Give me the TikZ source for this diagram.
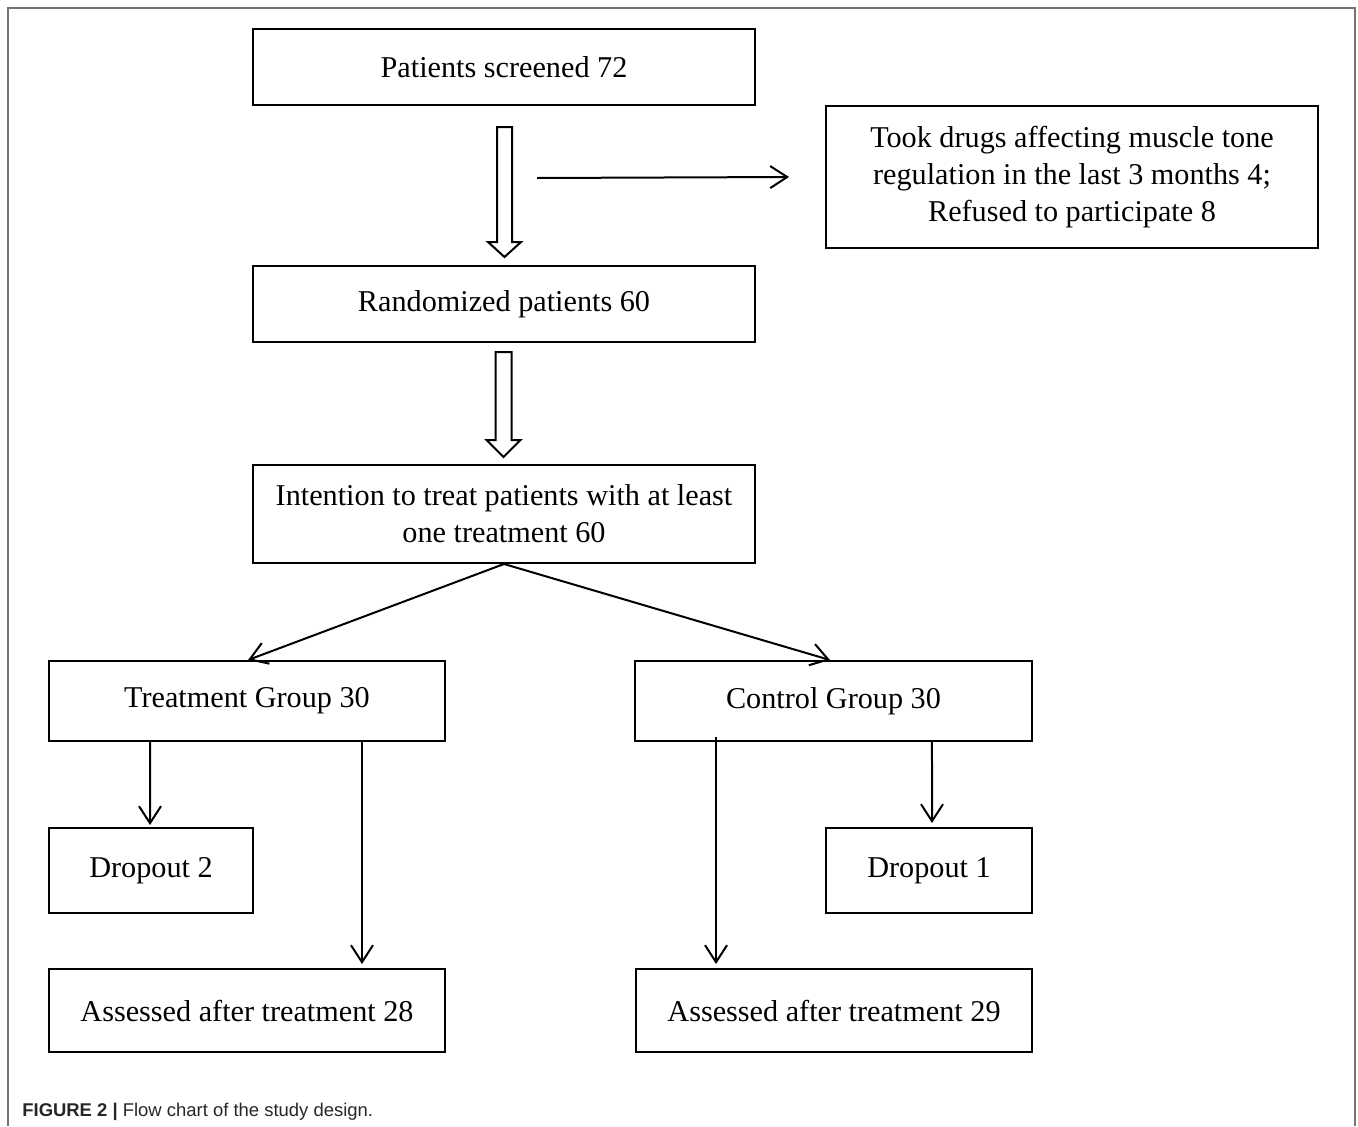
\documentclass[tikz,border=0pt]{standalone}
\usepackage{fontspec}
\setmainfont{Liberation Serif}
\newfontfamily\capfont{Liberation Sans}
\usetikzlibrary{arrows.meta}

\tikzset{
  box/.style={draw, line width=0.04cm, align=center, inner sep=0pt,
    font=\fontsize{17.2}{21}\selectfont},
  link/.style={line width=0.04cm, -{Straight Barb[length=0.34cm,width=0.44cm,line width=0.04cm]}},
  hollow/.style={line width=0.04cm, line join=miter}
}

\begin{document}
\begin{tikzpicture}[x=0.02cm,y=-0.02cm]
\useasboundingbox (0,0) rectangle (1358,1126);
% frame round the figure
\draw [gray!90!black, line width=0.04cm] (8,1126) -- (8,8) -- (1355,8) -- (1355,1126);

% boxes
\node[box, minimum width=10.04cm, minimum height=1.54cm] (screened) at (504,67) {Patients screened 72};
\node[box, minimum width=9.84cm, minimum height=2.84cm] (excluded) at (1072,177)
  {Took drugs affecting muscle tone\\regulation in the last 3 months 4;\\Refused to participate 8};
\node[box, minimum width=10.04cm, minimum height=1.52cm] (random) at (504,304) {Randomized patients 60};
\node[box, minimum width=10.04cm, minimum height=1.96cm] (itt) at (504,514)
  {Intention to treat patients with at least\\one treatment 60};
\node[box, minimum width=7.92cm, minimum height=1.6cm] (treat) at (247,701) {Treatment Group 30};
\node[box, minimum width=7.94cm, minimum height=1.6cm] (control) at (833.5,701) {Control Group 30};
\node[box, minimum width=4.08cm, minimum height=1.7cm] (dropA) at (151,870.5) {Dropout 2};
\node[box, minimum width=4.12cm, minimum height=1.7cm] (dropB) at (929,870.5) {Dropout 1};
\node[box, minimum width=7.92cm, minimum height=1.66cm] (assessA) at (247,1010.5) {Assessed after treatment 28};
\node[box, minimum width=7.92cm, minimum height=1.66cm] (assessB) at (834,1010.5) {Assessed after treatment 29};

% hollow arrows
\coordinate (topA) at (504.5,127);
\coordinate (topB) at (503.5,352);
\draw[hollow] (topA) ++(-7.5,0) -- ++(15,0) -- ++(0,115) -- ++(9,0) -- ++(-16.5,15)
  -- ++(-16.5,-15) -- ++(9,0) -- cycle;
\draw[hollow] (topB) ++(-8,0) -- ++(16,0) -- ++(0,88) -- ++(9,0) -- ++(-17,17)
  -- ++(-17,-17) -- ++(9,0) -- cycle;

% exclusion arrow
\coordinate (split) at (537,178);
\draw[link] (split) -- ([xshift=-0.72cm]excluded.west);

% allocation
\coordinate (treatR) at ([xshift=2.3cm]treat.south);
\coordinate (controlL) at ([xshift=-2.35cm,yshift=0.1cm]control.south);
\draw[link] (itt.south) -- ([xshift=0.02cm]treat.north);
\draw[link] (itt.south) -- ([xshift=-0.07cm]control.north);
\draw[link] ([xshift=-1.94cm]treat.south) -- ([xshift=-0.02cm,yshift=0.04cm]dropA.north);
\draw[link] (treatR) -- ([yshift=0.08cm]assessA.north -| treatR);
\draw[link] (controlL) -- ([yshift=0.08cm]assessB.north -| controlL);
\draw[link] ([xshift=1.97cm]control.south) -- ([xshift=0.06cm,yshift=0.08cm]dropB.north);

% caption
\node[anchor=base west, inner sep=0pt, text=black!85, font=\capfont\fontsize{10.5}{12}\selectfont] (caption) at (22,1116)
  {\textbf{FIGURE 2 |} Flow chart of the study design.};
\end{tikzpicture}
\end{document}
